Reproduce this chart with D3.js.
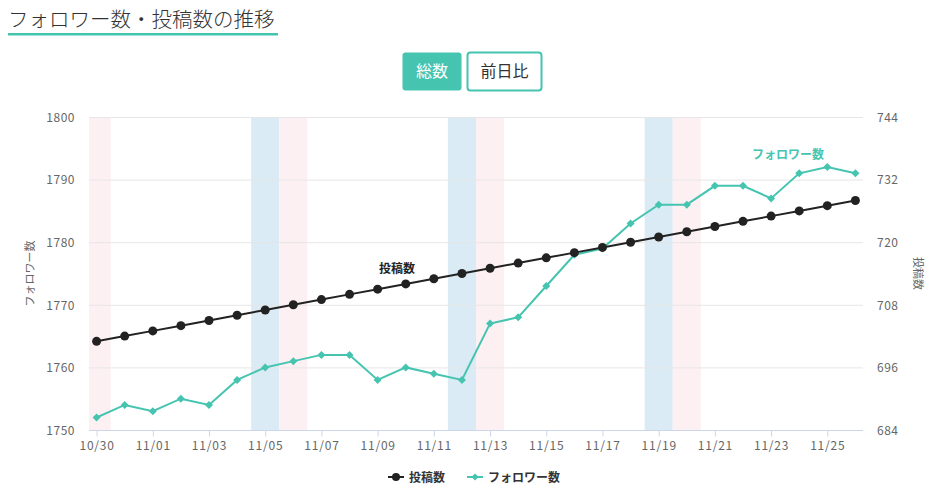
<!DOCTYPE html>
<html>
<head>
<meta charset="utf-8">
<script src="https://cdn.jsdelivr.net/npm/d3@7"></script>
<style>
  body { margin: 0; background: #fff; font-family: "Noto Sans CJK JP", "Noto Sans", sans-serif; }
  svg text { font-family: "Noto Sans CJK JP", "Noto Sans", sans-serif; }
</style>
</head>
<body>
<svg id="chart" width="942" height="495"></svg>
<script>
'use strict';

// dates on the x axis
var dates = ['10/30', '10/31', '11/01', '11/02', '11/03', '11/04', '11/05', '11/06', '11/07', '11/08',
  '11/09', '11/10', '11/11', '11/12', '11/13', '11/14', '11/15', '11/16', '11/17', '11/18',
  '11/19', '11/20', '11/21', '11/22', '11/23', '11/24', '11/25', '11/26'];

var followers = [1752, 1754, 1753, 1755, 1754, 1758, 1760, 1761, 1762, 1762,
  1758, 1760, 1759, 1758, 1767, 1768, 1773, 1778, 1779, 1783,
  1786, 1786, 1789, 1789, 1787, 1791, 1792, 1791];

var posts = [701, 702, 703, 704, 705, 706, 707, 708, 709, 710,
  711, 712, 713, 714, 715, 716, 717, 718, 719, 720,
  721, 722, 723, 724, 725, 726, 727, 728];

var saturdays = ['11/05', '11/12', '11/19'];
var sundays = ['10/30', '11/06', '11/13', '11/20'];

var leftTicks = [1750, 1760, 1770, 1780, 1790, 1800];
var rightTicks = [684, 696, 708, 720, 732, 744];

(function () {
  var TEAL = '#45c4b0',
      DARK = '#222';

  var svg = d3.select('#chart');

  // title with underline
  svg.append('text').attr('x', 8).attr('y', 27).attr('font-size', 20.5).attr('font-weight', 300)
    .attr('fill', '#333').text('フォロワー数・投稿数の推移');
  svg.append('rect').attr('x', 8).attr('y', 33).attr('width', 270).attr('height', 2.5).attr('fill', TEAL);

  // toggle buttons
  var buttons = svg.append('g');
  buttons.append('rect').attr('x', 402.5).attr('y', 52.5).attr('width', 59).attr('height', 38).attr('rx', 3)
    .attr('fill', TEAL);
  buttons.append('text').attr('x', 432).attr('y', 77).attr('text-anchor', 'middle').attr('font-size', 16)
    .attr('fill', '#fff').text('総数');
  buttons.append('rect').attr('x', 467.5).attr('y', 52.5).attr('width', 74).attr('height', 38).attr('rx', 3)
    .attr('fill', '#fff').attr('stroke', TEAL).attr('stroke-width', 2);
  buttons.append('text').attr('x', 504.5).attr('y', 77).attr('text-anchor', 'middle').attr('font-size', 16)
    .attr('fill', '#333').text('前日比');

  var pLeft = 89, pRight = 863, pTop = 117, pBottom = 430;

  var x = d3.scaleLinear().domain([-0.27, dates.length - 1 + 0.27]).range([pLeft, pRight]);
  var yL = d3.scaleLinear().domain([1750, 1800]).range([pBottom, pTop]);
  var yR = d3.scaleLinear().domain([684, 744]).range([pBottom, pTop]);
  var step = x(1) - x(0);

  // weekend bands
  var plot = svg.append('g');
  plot.append('clipPath').attr('id', 'clip').append('rect')
    .attr('x', pLeft).attr('y', pTop).attr('width', pRight - pLeft).attr('height', pBottom - pTop);
  var bands = plot.append('g').attr('clip-path', 'url(#clip)');
  bands.selectAll('rect.sat').data(saturdays).enter().append('rect').attr('class', 'sat')
    .attr('x', function (d) { return x(dates.indexOf(d)) - step / 2; })
    .attr('y', pTop).attr('width', step).attr('height', pBottom - pTop).attr('fill', '#daebf5');
  bands.selectAll('rect.sun').data(sundays).enter().append('rect').attr('class', 'sun')
    .attr('x', function (d) { return x(dates.indexOf(d)) - step / 2; })
    .attr('y', pTop).attr('width', step).attr('height', pBottom - pTop).attr('fill', '#fdf0f3');

  // grid lines
  plot.selectAll('line.grid').data(leftTicks.slice(1)).enter().append('line').attr('class', 'grid')
    .attr('x1', pLeft).attr('x2', pRight)
    .attr('y1', function (d) { return yL(d) + 0.5; }).attr('y2', function (d) { return yL(d) + 0.5; })
    .attr('stroke', '#e6e6e6');

  // left axis
  var axL = svg.append('g').attr('transform', 'translate(' + (pLeft - 14) + ',0)')
    .call(d3.axisLeft(yL).tickValues(leftTicks).tickFormat(d3.format('d')).tickSize(0).tickPadding(0));
  axL.select('.domain').remove();
  axL.selectAll('text').attr('font-size', 12).attr('fill', '#666').attr('dy', '0.35em')
    .attr('letter-spacing', 0.5);

  // right axis
  var axR = svg.append('g').attr('transform', 'translate(' + (pRight + 14) + ',0)')
    .call(d3.axisRight(yR).tickValues(rightTicks).tickFormat(d3.format('d')).tickSize(0).tickPadding(0));
  axR.select('.domain').remove();
  axR.selectAll('text').attr('font-size', 12).attr('fill', '#666').attr('dy', '0.35em')
    .attr('letter-spacing', 0.5);

  // x axis
  var xTickIdx = dates.map(function (d, i) { return i; }).filter(function (i) { return i % 2 === 0; });
  var axX = svg.append('g').attr('transform', 'translate(0,' + (pBottom + 0.5) + ')')
    .call(d3.axisBottom(x).tickValues(xTickIdx).tickSize(6).tickPadding(5)
      .tickFormat(function (i) { return dates[i]; }).tickSizeOuter(0));
  axX.select('.domain').attr('stroke', '#ccd6eb').attr('d', 'M' + pLeft + ',0H' + pRight);
  axX.selectAll('.tick line').attr('stroke', '#ccd6eb').attr('y1', 0).attr('y2', 6);
  axX.selectAll('text').attr('font-size', 12).attr('fill', '#666').attr('letter-spacing', 0.8);

  // axis titles
  svg.append('text').attr('transform', 'translate(34,' + ((pTop + pBottom) / 2) + ') rotate(-90)')
    .attr('text-anchor', 'middle').attr('font-size', 11).attr('fill', '#666').text('フォロワー数');
  svg.append('text').attr('transform', 'translate(914,' + ((pTop + pBottom) / 2) + ') rotate(90)')
    .attr('text-anchor', 'middle').attr('font-size', 11).attr('fill', '#666').text('投稿数');

  // series
  var lineL = d3.line().x(function (d, i) { return x(i); }).y(function (d) { return yL(d); });
  var lineR = d3.line().x(function (d, i) { return x(i); }).y(function (d) { return yR(d); });
  var diamond = d3.symbol(d3.symbolSquare, 32);

  plot.append('path').datum(followers).attr('d', lineL).attr('fill', 'none')
    .attr('stroke', TEAL).attr('stroke-width', 2);
  plot.selectAll('path.fdot').data(followers).enter().append('path').attr('class', 'fdot')
    .attr('d', diamond)
    .attr('transform', function (d, i) { return 'translate(' + x(i) + ',' + yL(d) + ') rotate(45)'; })
    .attr('fill', TEAL);

  plot.append('path').datum(posts).attr('d', lineR).attr('fill', 'none')
    .attr('stroke', DARK).attr('stroke-width', 2);
  plot.selectAll('circle.pdot').data(posts).enter().append('circle').attr('class', 'pdot')
    .attr('cx', function (d, i) { return x(i); }).attr('cy', function (d) { return yR(d); })
    .attr('r', 4.5).attr('fill', DARK);

  // series labels
  svg.append('text').attr('x', 397).attr('y', 273).attr('text-anchor', 'middle').attr('font-size', 12)
    .attr('font-weight', 'bold').attr('fill', '#222').text('投稿数');
  svg.append('text').attr('x', 788).attr('y', 159).attr('text-anchor', 'middle').attr('font-size', 12)
    .attr('font-weight', 'bold').attr('fill', TEAL).text('フォロワー数');

  // legend
  var legend = svg.append('g').attr('transform', 'translate(0,477)');
  legend.append('line').attr('x1', 388).attr('x2', 404).attr('stroke', DARK).attr('stroke-width', 2);
  legend.append('circle').attr('cx', 396).attr('cy', 0).attr('r', 4).attr('fill', DARK);
  legend.append('text').attr('x', 409).attr('y', 5).attr('font-size', 12).attr('font-weight', 'bold')
    .attr('fill', '#333').text('投稿数');
  legend.append('line').attr('x1', 467).attr('x2', 483).attr('stroke', TEAL).attr('stroke-width', 2);
  legend.append('path').attr('d', d3.symbol(d3.symbolSquare, 26))
    .attr('transform', 'translate(475,0) rotate(45)').attr('fill', TEAL);
  legend.append('text').attr('x', 488).attr('y', 5).attr('font-size', 12).attr('font-weight', 'bold')
    .attr('fill', '#333').text('フォロワー数');
})();
</script>
</body>
</html>
